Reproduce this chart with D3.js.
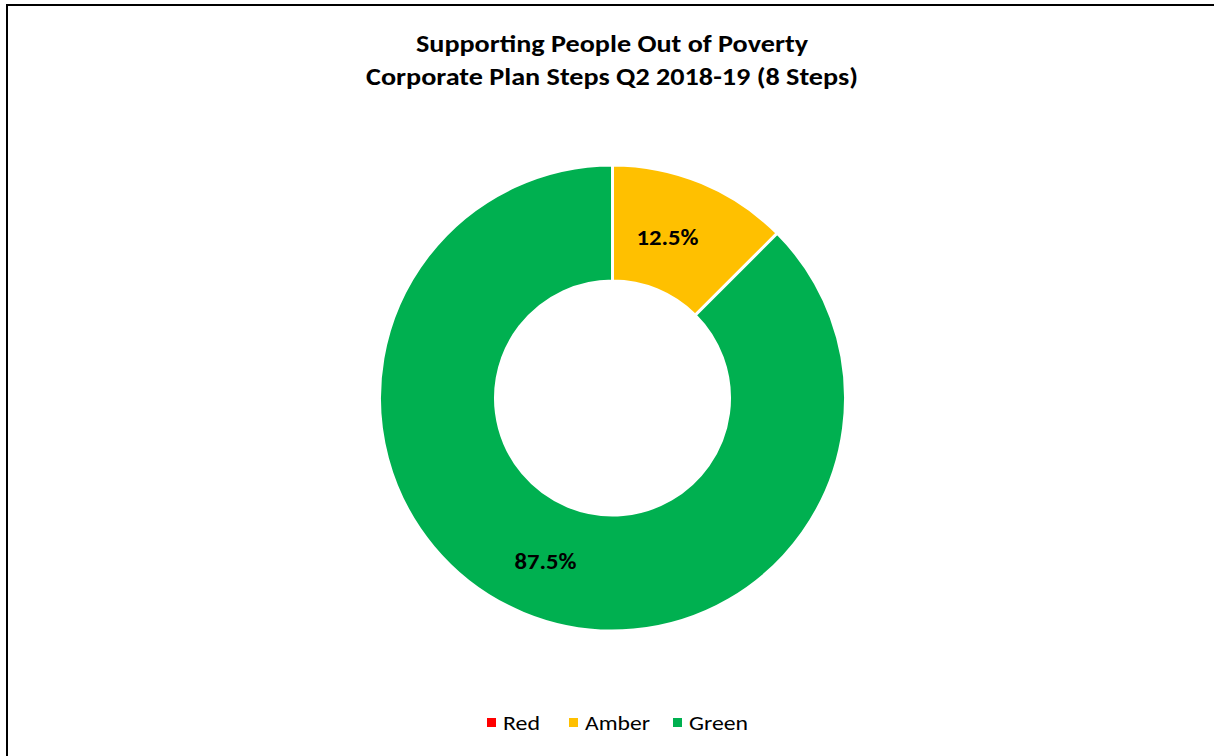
<!DOCTYPE html>
<html>
<head>
<meta charset="utf-8">
<script src="https://cdn.jsdelivr.net/npm/d3@7"></script>
<style>
html,body{margin:0;padding:0;background:#fff;}
svg{display:block;}
text{font-family:Calibri,Carlito,Lato,"Open Sans","Noto Sans",sans-serif;}
</style>
</head>
<body>
<svg id="chart" width="1214" height="756"></svg>
<script>
const categories = ["Red", "Amber", "Green"];
const values = [0, 1, 7];
const colors = ["#FF0000", "#FFC000", "#00B050"];
const titleLines = ["Supporting People Out of Poverty", "Corporate Plan Steps Q2 2018-19 (8 Steps)"];

const svg = d3.select("#chart");
const W = 1214, H = 756;

// border
svg.append("rect").attr("x", 7).attr("y", 5).attr("width", W + 10).attr("height", H + 10)
  .attr("fill", "#fff").attr("stroke", "#000").attr("stroke-width", 2);

// title
const title = svg.append("text").attr("text-anchor", "middle")
  .attr("font-weight", "bold").attr("font-size", 25).attr("fill", "#000");
title.selectAll("tspan").data(titleLines).join("tspan")
  .attr("x", 612).attr("y", (d, i) => 52 + i * 33)
  .attr("textLength", (d, i) => i === 0 ? 392 : 492)
  .attr("lengthAdjust", "spacingAndGlyphs")
  .text(d => d);

const data = categories.map((c, i) => ({ cat: c, value: values[i], color: colors[i] }));
const total = d3.sum(values);

const cx = 612.5, cy = 398, outerR = 233, innerR = 117;
const pie = d3.pie().value(d => d.value).sort(null);
const arc = d3.arc().innerRadius(innerR).outerRadius(outerR);
const g = svg.append("g").attr("transform", `translate(${cx},${cy})`);
const arcs = pie(data);

g.selectAll("path").data(arcs.filter(a => a.data.value > 0)).join("path")
  .attr("d", arc).attr("fill", d => d.data.color)
  .attr("stroke", "#fff").attr("stroke-width", 3).attr("stroke-linejoin", "miter");

const labelArc = d3.arc().innerRadius((innerR + outerR) / 2).outerRadius((innerR + outerR) / 2);
g.selectAll("text.lbl").data(arcs.filter(a => a.data.value > 0)).join("text")
  .attr("class", "lbl")
  .attr("transform", d => {
    const [x, y] = labelArc.centroid(d);
    const dx = d.data.cat === "Amber" ? -12 : 0;
    const dy = d.data.cat === "Amber" ? 3 : 4;
    return `translate(${x + dx},${y + dy})`;
  })
  .attr("text-anchor", "middle").attr("dominant-baseline", "middle")
  .attr("font-weight", "bold").attr("font-size", 22).attr("fill", "#000")
  .attr("textLength", 62).attr("lengthAdjust", "spacingAndGlyphs")
  .text(d => (d.data.value / total * 100).toFixed(1) + "%");

// legend
const legendX = [487, 569, 673];
const legendW = [37, 65, 59];
const lg = svg.append("g");
data.forEach((d, i) => {
  lg.append("rect").attr("x", legendX[i]).attr("y", 718).attr("width", 9).attr("height", 9).attr("fill", d.color);
  lg.append("text").attr("x", legendX[i] + 16).attr("y", 730)
    .attr("font-size", 21).attr("fill", "#000")
    .attr("textLength", legendW[i]).attr("lengthAdjust", "spacingAndGlyphs")
    .text(d.cat);
});
</script>
</body>
</html>
